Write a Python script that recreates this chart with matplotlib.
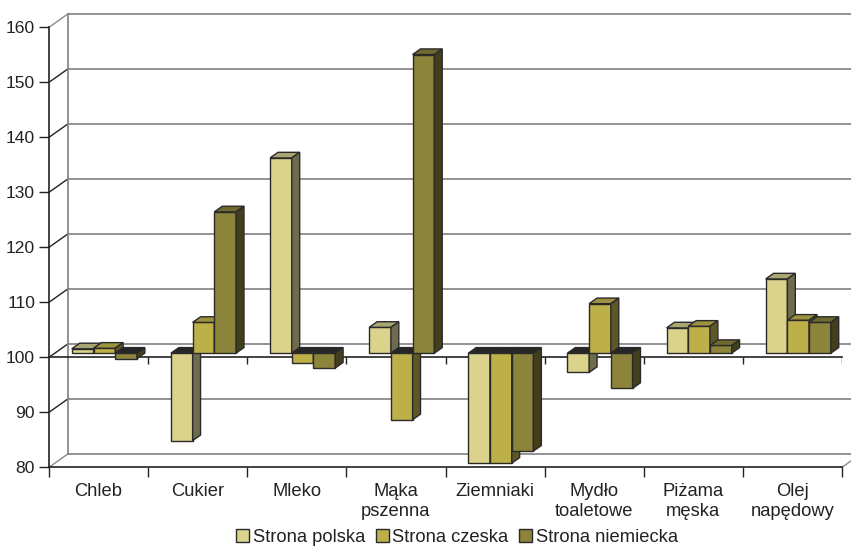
import numpy as np
import matplotlib
matplotlib.use("Agg")
import matplotlib.pyplot as plt
from matplotlib.patches import Polygon, Patch

plt.rcParams['font.family'] = ['Liberation Sans', 'DejaVu Sans']

categories = ["Chleb", "Cukier", "Mleko", "Mąka\npszenna", "Ziemniaki",
              "Mydło\ntoaletowe", "Piżama\nmęska", "Olej\nnapędowy"]
series = ["Strona polska", "Strona czeska", "Strona niemiecka"]
polska = [100.8, 84.1, 135.5, 104.7, 80.0, 96.5, 104.6, 113.5]
czeska = [100.9, 105.6, 98.2, 87.9, 80.0, 109.0, 104.9, 106.0]
niemiecka = [99.0, 125.7, 97.3, 154.3, 82.2, 93.6, 101.4, 105.6]
yticks = [80, 90, 100, 110, 120, 130, 140, 150, 160]

# face colours per series: front, top, side
front = ["#dbd38b", "#bdb048", "#8c843b"]
topc = ["#aaa672", "#9c9240", "#6f6930"]
side = ["#6e6c4c", "#5e5828", "#433f1d"]
dark_top = "#262626"
edge = "#2a2a2a"

base = 100
DX, DY = 0.195, 2.49          # full depth of the chart box, data units
F0 = 0.30                     # depth where the bar fronts sit
BD = 0.41                     # depth of a bar
W = 0.219                     # bar width

fig = plt.figure(figsize=(8.51, 5.46), dpi=100)
ax = fig.add_axes([49 / 851, (546 - 467.3) / 546, 793 / 851, 440 / 546])
ax.set_xlim(-0.5, 7.5)
ax.set_ylim(80, 160)
for s in ["top", "right"]:
    ax.spines[s].set_visible(False)
ax.spines["left"].set_color("#222222")
ax.spines["bottom"].set_color("#222222")
ax.spines["left"].set_linewidth(1.2)
ax.spines["bottom"].set_linewidth(1.2)

grid = "#8a8a8a"
n = len(categories)
x0, x1 = -0.5, n - 0.5

# back wall, side wall and floor
for v in yticks:
    ax.plot([x0 + DX, x1 + DX], [v + DY, v + DY], color=grid, lw=1.3,
            clip_on=False, zorder=1)
    c = grid if v in (80, 160) else "#222222"
    ax.plot([x0, x0 + DX], [v, v + DY], color=c, lw=1.0, clip_on=False, zorder=1)
ax.plot([x0 + DX, x0 + DX], [80 + DY, 160 + DY], color=grid, lw=1.3,
        clip_on=False, zorder=1)
ax.plot([x1, x1 + DX], [80, 80 + DY], color=grid, lw=1.0, clip_on=False, zorder=1)

# category axis crossing at 100
ax.plot([x0, x1], [base, base], color="#222222", lw=1.2, zorder=2, clip_on=False)
bounds = np.arange(n + 1) - 0.5
ax.vlines(bounds[1:], base - 1.3, base, color="#222222", lw=1.0, zorder=2)

ax.set_yticks(yticks)
ax.set_xticks(np.arange(n))
ax.set_xticklabels(categories, linespacing=1.25)
ax.set_xticks(bounds, minor=True)
ax.tick_params(axis="x", which="major", length=0, pad=11, labelsize=13.2,
               colors="#222222")
ax.tick_params(axis="x", which="minor", length=7, width=1.0, color="#222222")
ax.tick_params(axis="y", length=7, width=1.0, pad=3, labelsize=12.6,
               colors="#222222")

values = [polska, czeska, niemiecka]
bdx, bdy = BD * DX, BD * DY
for j, vals in enumerate(values):
    xs = np.arange(n) + (j - 1) * W + F0 * DX
    vals = np.array(vals)
    bars = ax.bar(xs, vals - base, width=W, bottom=base + F0 * DY,
                  color=front[j], edgecolor=edge, linewidth=1.0)
    for i, rect in enumerate(bars):
        z = 3 + (i * 3 + j) * 0.01
        rect.set_zorder(z)
        l = xs[i] - W / 2
        r = xs[i] + W / 2
        lo = min(vals[i], base) + F0 * DY
        hi = max(vals[i], base) + F0 * DY
        tc = topc[j] if vals[i] >= base else dark_top
        ax.add_patch(Polygon([(l, hi), (r, hi), (r + bdx, hi + bdy), (l + bdx, hi + bdy)],
                             closed=True, facecolor=tc, edgecolor=edge, lw=1.0,
                             zorder=z, clip_on=False))
        ax.add_patch(Polygon([(r, lo), (r, hi), (r + bdx, hi + bdy), (r + bdx, lo + bdy)],
                             closed=True, facecolor=side[j], edgecolor=edge, lw=1.0,
                             zorder=z, clip_on=False))

handles = [Patch(facecolor=front[j], edgecolor=edge, lw=1.0) for j in range(3)]
fig.legend(handles, series, loc="center", bbox_to_anchor=(457 / 851, 8.5 / 546),
           ncol=3, frameon=False, fontsize=13.2, handlelength=0.7,
           handleheight=0.7, handletextpad=0.2, columnspacing=0.6,
           labelcolor="#222222")

fig.savefig("out.png", dpi=100)
